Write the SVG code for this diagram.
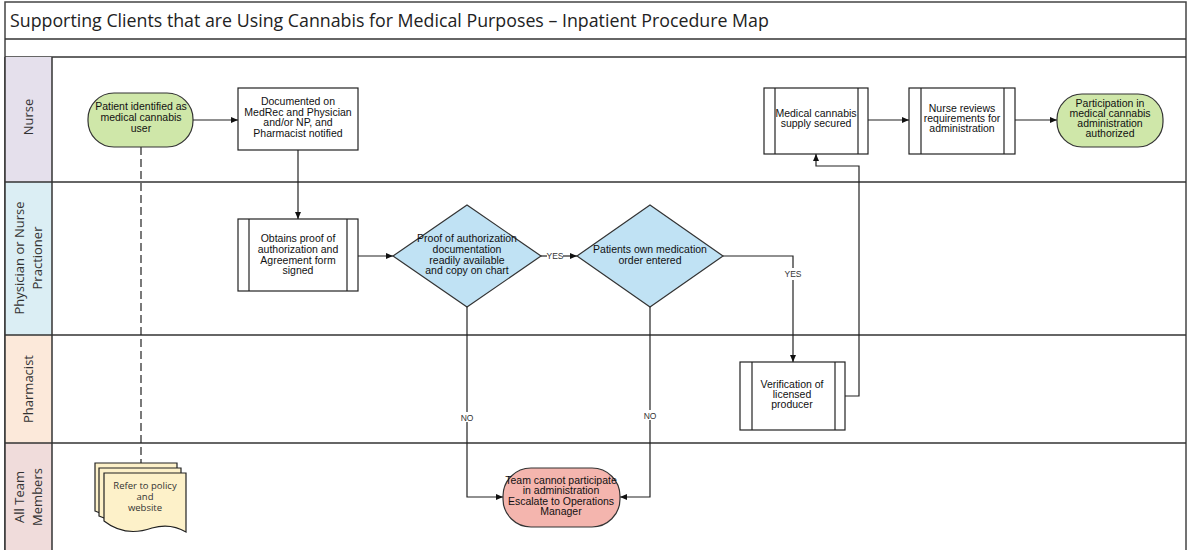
<svg xmlns="http://www.w3.org/2000/svg" width="1187" height="550" viewBox="0 0 1187 550">
<defs>
<marker id="arr" markerWidth="8" markerHeight="8" refX="7" refY="4" orient="auto" markerUnits="userSpaceOnUse">
<path d="M0,1 L7,4 L0,7 Z" fill="#111"/>
</marker>
<style>
.frame{fill:none;stroke:#444;stroke-width:1.5}
.lane{stroke:#333;stroke-width:1.5}
.lbl{font-family:"Open Sans","Liberation Sans",sans-serif;font-size:13px;fill:#333;text-anchor:middle}
.t{font-family:"Liberation Sans",Arial,sans-serif;font-size:10.5px;fill:#111;text-anchor:middle}
.sm{font-family:"Liberation Sans",Arial,sans-serif;font-size:8.5px;fill:#333;text-anchor:middle}
.dt{font-family:"Open Sans","Liberation Sans",sans-serif;font-size:9.5px;fill:#333;text-anchor:middle}
.box{fill:#fff;stroke:#222;stroke-width:1.2}
.green{fill:#cfe7a9;stroke:#333;stroke-width:1.2}
.blue{fill:#c0e2f4;stroke:#333;stroke-width:1.2}
.red{fill:#f4b5ae;stroke:#333;stroke-width:1.2}
.doc{fill:#fdf1c9;stroke:#222;stroke-width:1.2}
.c{fill:none;stroke:#222;stroke-width:1.2}
</style>
</defs>
<rect width="1187" height="550" fill="#fff"/>
<g id="frame">
<rect x="5" y="2" width="1181" height="550" class="frame"/>
<line x1="5" y1="39" x2="1186" y2="39" class="lane"/>
<line x1="5" y1="57" x2="1186" y2="57" class="lane"/>
<text x="10" y="27" font-family="Open Sans, Liberation Sans, sans-serif" font-size="17.8" fill="#222">Supporting Clients that are Using Cannabis for Medical Purposes – Inpatient Procedure Map</text>
</g>
<g id="lanes">
<rect x="5" y="57" width="47" height="125" fill="#e5e0ec"/>
<rect x="5" y="182" width="47" height="153" fill="#dbeef4"/>
<rect x="5" y="335" width="47" height="108" fill="#fce9da"/>
<rect x="5" y="443" width="47" height="107" fill="#f0dcdb"/>
<line x1="52" y1="57" x2="52" y2="550" class="lane"/>
<line x1="5" y1="182" x2="1186" y2="182" class="lane"/>
<line x1="5" y1="335" x2="1186" y2="335" class="lane"/>
<line x1="5" y1="443" x2="1186" y2="443" class="lane"/>
<line x1="5" y1="57" x2="5" y2="550" class="lane"/>
<text class="lbl" transform="translate(33,117) rotate(-90)">Nurse</text>
<text class="lbl" transform="translate(24,258) rotate(-90)">Physician or Nurse</text>
<text class="lbl" transform="translate(42,258) rotate(-90)">Practioner</text>
<text class="lbl" transform="translate(33,389) rotate(-90)">Pharmacist</text>
<text class="lbl" transform="translate(24,497) rotate(-90)">All Team</text>
<text class="lbl" transform="translate(42,497) rotate(-90)">Members</text>
</g>
<g id="connectors">
<line x1="141" y1="147" x2="141" y2="463" stroke="#222" stroke-width="1.2" stroke-dasharray="8,4"/>
<line x1="193" y1="120" x2="238" y2="120" class="c" marker-end="url(#arr)"/>
<line x1="298" y1="150" x2="298" y2="219" class="c" marker-end="url(#arr)"/>
<line x1="358" y1="256" x2="393" y2="256" class="c" marker-end="url(#arr)"/>
<line x1="541" y1="256" x2="547" y2="256" class="c"/>
<line x1="563" y1="256" x2="577" y2="256" class="c" marker-end="url(#arr)"/>
<text x="555" y="259" class="sm">YES</text>
<polyline points="723,256 793,256 793,268" class="c"/>
<polyline points="793,280 793,362" class="c" marker-end="url(#arr)"/>
<text x="793" y="277" class="sm">YES</text>
<polyline points="845,396 859,396 859,166 816,166 816,154" class="c" marker-end="url(#arr)"/>
<line x1="868" y1="120" x2="909" y2="120" class="c" marker-end="url(#arr)"/>
<line x1="1015" y1="120" x2="1057" y2="120" class="c" marker-end="url(#arr)"/>
<polyline points="467,307 467,412" class="c"/>
<polyline points="467,422 467,497 503,497" class="c" marker-end="url(#arr)"/>
<text x="467" y="421" class="sm">NO</text>
<polyline points="650,307 650,410" class="c"/>
<polyline points="650,420 650,497 620,497" class="c" marker-end="url(#arr)"/>
<text x="650" y="419" class="sm">NO</text>
</g>
<g id="start">
<rect x="88" y="93" width="105" height="54" rx="26" class="green"/>
<text class="t" x="141" y="110">Patient identified as</text>
<text class="t" x="141" y="121">medical cannabis</text>
<text class="t" x="141" y="132">user</text>
</g>
<g id="documented">
<rect x="238" y="88" width="120" height="62" class="box"/>
<text class="t" x="298" y="105">Documented on</text>
<text class="t" x="298" y="116">MedRec and Physician</text>
<text class="t" x="298" y="126">and/or NP, and</text>
<text class="t" x="298" y="137">Pharmacist notified</text>
</g>
<g id="obtains">
<rect x="238" y="219" width="120" height="72" class="box"/>
<line x1="249" y1="219" x2="249" y2="291" class="c"/>
<line x1="347" y1="219" x2="347" y2="291" class="c"/>
<text class="t" x="298" y="242">Obtains proof of</text>
<text class="t" x="298" y="253">authorization and</text>
<text class="t" x="298" y="264">Agreement form</text>
<text class="t" x="298" y="274">signed</text>
</g>
<g id="decision1">
<polygon points="393,256 467,205 541,256 467,307" class="blue"/>
<text class="t" x="467" y="242">Proof of authorization</text>
<text class="t" x="467" y="253">documentation</text>
<text class="t" x="467" y="264">readily available</text>
<text class="t" x="467" y="274">and copy on chart</text>
</g>
<g id="decision2">
<polygon points="577,256 650,205 723,256 650,307" class="blue"/>
<text class="t" x="650" y="253">Patients own medication</text>
<text class="t" x="650" y="264">order entered</text>
</g>
<g id="verification">
<rect x="740" y="362" width="105" height="68" class="box"/>
<line x1="752" y1="362" x2="752" y2="430" class="c"/>
<line x1="835" y1="362" x2="835" y2="430" class="c"/>
<text class="t" x="792" y="388">Verification of</text>
<text class="t" x="792" y="398">licensed</text>
<text class="t" x="792" y="408">producer</text>
</g>
<g id="supply">
<rect x="764" y="88" width="104" height="66" class="box"/>
<line x1="775" y1="88" x2="775" y2="154" class="c"/>
<line x1="858" y1="88" x2="858" y2="154" class="c"/>
<text class="t" x="816" y="117">Medical cannabis</text>
<text class="t" x="816" y="127">supply secured</text>
</g>
<g id="reviews">
<rect x="909" y="88" width="106" height="66" class="box"/>
<line x1="921" y1="88" x2="921" y2="154" class="c"/>
<line x1="1004" y1="88" x2="1004" y2="154" class="c"/>
<text class="t" x="962" y="112">Nurse reviews</text>
<text class="t" x="962" y="122">requirements for</text>
<text class="t" x="962" y="132">administration</text>
</g>
<g id="end">
<rect x="1057" y="94" width="106" height="53" rx="25" class="green"/>
<text class="t" x="1110" y="107">Participation in</text>
<text class="t" x="1110" y="117">medical cannabis</text>
<text class="t" x="1110" y="127">administration</text>
<text class="t" x="1110" y="137">authorized</text>
</g>
<g id="cannot">
<rect x="503" y="468" width="117" height="59" rx="28" class="red"/>
<text class="t" x="561" y="484">Team cannot participate</text>
<text class="t" x="561" y="494">in administration</text>
<text class="t" x="561" y="505">Escalate to Operations</text>
<text class="t" x="561" y="515">Manager</text>
</g>
<g id="policy">
<path d="M95,463 H177 V512 C168,508 160,510 150,514 C135,520 115,520 95,511 Z" class="doc"/>
<path d="M99,468 H181 V517 C172,513 164,515 154,519 C139,525 119,525 99,516 Z" class="doc"/>
<path d="M104,473 H186 V532 C176,526 166,524 152,528 C135,534 118,532 104,521 Z" class="doc"/>
<text x="145" y="489" class="dt">Refer to policy</text>
<text x="145" y="500" class="dt">and</text>
<text x="145" y="511" class="dt">website</text>
</g>
</svg>
